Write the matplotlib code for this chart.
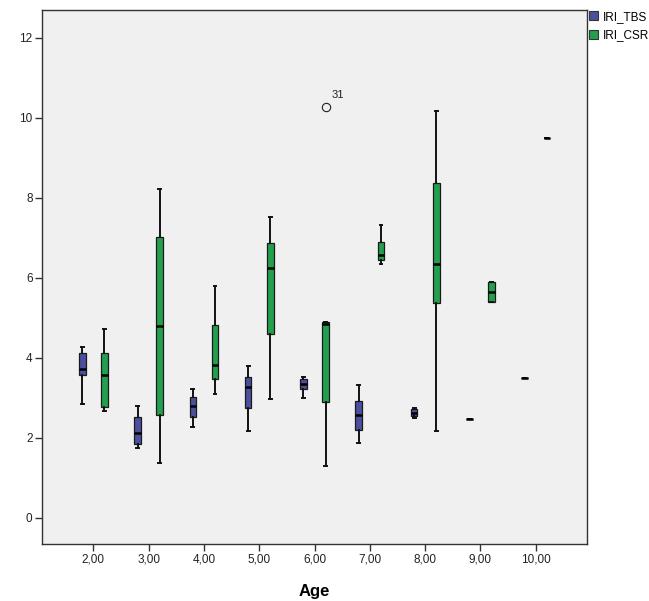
import matplotlib
matplotlib.use("Agg")
import matplotlib.pyplot as plt
from matplotlib.patches import Patch

plt.rcParams['font.family'] = ['Liberation Sans', 'DejaVu Sans']

# Age groups and their tick labels
ages = [2, 3, 4, 5, 6, 7, 8, 9, 10]
age_labels = ["2,00", "3,00", "4,00", "5,00", "6,00", "7,00", "8,00", "9,00", "10,00"]

# IRI_TBS five-number summaries per age
tbs_low = [2.85, 1.75, 2.28, 2.17, 3.00, 1.87, 2.50, 2.47, 3.49]
tbs_q1 = [3.58, 1.85, 2.53, 2.75, 3.22, 2.20, 2.55, 2.47, 3.49]
tbs_med = [3.72, 2.12, 2.80, 3.28, 3.35, 2.57, 2.63, 2.47, 3.49]
tbs_q3 = [4.12, 2.53, 3.02, 3.53, 3.47, 2.93, 2.72, 2.47, 3.49]
tbs_high = [4.28, 2.80, 3.23, 3.80, 3.53, 3.33, 2.75, 2.47, 3.49]

# IRI_CSR five-number summaries per age
csr_low = [2.68, 1.38, 3.10, 2.98, 1.30, 6.35, 2.18, 5.41, 9.49]
csr_q1 = [2.78, 2.57, 3.47, 4.60, 2.91, 6.45, 5.37, 5.41, 9.49]
csr_med = [3.58, 4.80, 3.82, 6.24, 4.85, 6.57, 6.35, 5.66, 9.49]
csr_q3 = [4.12, 7.03, 4.82, 6.87, 4.91, 6.91, 8.37, 5.91, 9.49]
csr_high = [4.72, 8.22, 5.80, 7.52, 4.91, 7.32, 10.18, 5.91, 9.49]

# Outlying cases: (age, value, case id)
outlier_age = [6]
outlier_value = [10.28]
outlier_case = ["31"]

series_names = ["IRI_TBS", "IRI_CSR"]
series_colors = ["#4b4f9e", "#22a04e"]

W, H = 649, 601
fig = plt.figure(figsize=(W / 100, H / 100), dpi=100)
fig.patch.set_facecolor("white")
ax = fig.add_axes([42.3 / W, 1 - 544 / H, (586.7 - 42.3) / W, (544 - 10) / H])
ax.set_facecolor("#f0f0f0")

positions = list(range(1, len(ages) + 1))
offset = 0.2
box_w = 0.12


def make_stats(low, q1, med, q3, high, fliers_by_age):
    stats = []
    for i, a in enumerate(ages):
        stats.append(dict(whislo=low[i], q1=q1[i], med=med[i], q3=q3[i],
                          whishi=high[i], fliers=fliers_by_age.get(a, [])))
    return stats


csr_fliers = {}
for a, v in zip(outlier_age, outlier_value):
    csr_fliers.setdefault(a, []).append(v)

groups = [
    (make_stats(tbs_low, tbs_q1, tbs_med, tbs_q3, tbs_high, {}), -offset, series_colors[0]),
    (make_stats(csr_low, csr_q1, csr_med, csr_q3, csr_high, csr_fliers), offset, series_colors[1]),
]

for stats, off, color in groups:
    ax.bxp(stats, positions=[p + off for p in positions], widths=box_w,
           patch_artist=True, showfliers=True, capwidths=0.05,
           boxprops=dict(facecolor=color, edgecolor="#1a1a1a", linewidth=0.9),
           medianprops=dict(color="black", linewidth=1.8),
           whiskerprops=dict(color="#111111", linewidth=1.4),
           capprops=dict(color="#111111", linewidth=1.4),
           flierprops=dict(marker="o", markerfacecolor="none",
                           markeredgecolor="#222222", markersize=6,
                           markeredgewidth=0.8),
           manage_ticks=False)

# Case labels beside outliers
for a, v, c in zip(outlier_age, outlier_value, outlier_case):
    x = positions[ages.index(a)] + offset
    ax.annotate(c, (x, v), xytext=(4, 6), textcoords="offset points",
                fontsize=8, color="#222222")

ax.set_xlim(0.078, 9.92)
ax.set_ylim(-0.65, 12.7)
ax.set_xticks(positions)
ax.set_xticklabels(age_labels)
ax.set_yticks([0, 2, 4, 6, 8, 10, 12])
ax.set_yticklabels(["0", "2", "4", "6", "8", "10", "12"])
ax.tick_params(axis="both", direction="out", length=5, width=1.0,
               color="#333333", labelsize=8.5, labelcolor="#222222", pad=2)
for s in ax.spines.values():
    s.set_color("#333333")
    s.set_linewidth(1.0)

ax.set_xlabel("Age", fontsize=12, fontweight="bold", labelpad=13)

handles = [Patch(facecolor=c, edgecolor="#333333", linewidth=0.8) for c in series_colors]
fig.legend(handles, series_names, loc="upper left",
           bbox_to_anchor=(589 / W, 1 - 11 / H), frameon=False, fontsize=8.5,
           handlelength=0.75, handleheight=0.8, handletextpad=0.4,
           borderpad=0, borderaxespad=0, labelspacing=0.55)

fig.savefig("out.png", dpi=100)
